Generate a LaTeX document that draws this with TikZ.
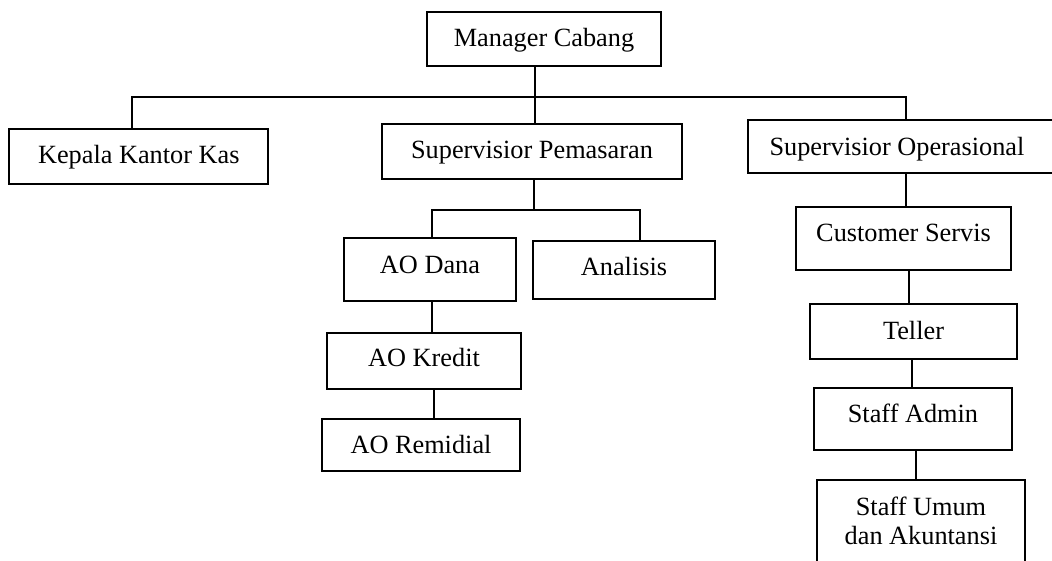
\documentclass[tikz,border=0pt]{standalone}
\usepackage{fontspec}
\setmainfont{Liberation Serif}
\begin{document}
\begin{tikzpicture}[x=1pt,y=-1pt,
  frame/.style={draw, line width=1.8pt, inner sep=0pt, font=\fontsize{26.3}{29}\selectfont},
  box/.style={frame, text depth=0pt},
  link/.style={line width=1.6pt}]
\useasboundingbox (0,0) rectangle (1052,561);
\clip (0,0) rectangle (1052,561);
\fill[white] (0,0) rectangle (1052,561);

\node[box, minimum width=234pt, minimum height=54pt, text height=16pt] (mgr) at (544,39) {Manager Cabang};
\node[box, minimum width=259pt, minimum height=55.3pt, text height=14.6pt] (kk) at (138.8,156.7) {Kepala Kantor Kas};
\node[box, minimum width=300pt, minimum height=55.3pt, text height=13.2pt] (sp) at (532,151.7) {Supervisior Pemasaran};
\node[box, minimum width=312pt, minimum height=53pt, text height=18pt] (so) at (904,146.5) {Supervisior Operasional\hspace*{14pt}};
\node[box, minimum width=215pt, minimum height=63pt, text height=6pt] (cs) at (903.5,238.5) {Customer Servis};
\node[box, minimum width=172pt, minimum height=63pt, text height=8pt] (aod) at (430,269.5) {AO Dana};
\node[box, minimum width=182pt, minimum height=58pt, text height=12pt] (ana) at (624,270) {Analisis};
\node[box, minimum width=194pt, minimum height=56pt, text height=11.4pt] (aok) at (424,361) {AO Kredit};
\node[box, minimum width=198pt, minimum height=52pt, text height=16pt] (aor) at (421,445) {AO Remidial};
\node[box, minimum width=207pt, minimum height=55pt, text height=15pt] (tel) at (913.5,331.5) {Teller};
\node[box, minimum width=198pt, minimum height=62pt, text height=7.4pt] (adm) at (913,419) {Staff Admin};
\node[frame, anchor=north, minimum width=208pt, minimum height=101.4pt] (umu) at (921,479)
  {\begin{tabular}{@{}c@{}}Staff Umum\\dan Akuntansi\\[12pt]\end{tabular}};

\coordinate (busL) at (131.7,97.3);
\coordinate (busM) at (535,97.3);
\coordinate (busR) at (906,97.3);
\draw[link] (kk.north -| busL) -- (busL) -- (busR) -- (so.north -| busR);
\draw[link] (mgr.south -| busM) -- (sp.north -| busM);

\coordinate (sbL) at (432,210);
\coordinate (sbM) at (534,210);
\coordinate (sbR) at (640,210);
\draw[link] (sp.south -| sbM) -- (sbM);
\draw[link] (aod.north -| sbL) -- (sbL) -- (sbR) -- (ana.north -| sbR);

\coordinate (c1) at (432,317);
\coordinate (c2) at (434,404);
\draw[link] (aod.south -| c1) -- (aok.north -| c1);
\draw[link] (aok.south -| c2) -- (aor.north -| c2);

\coordinate (c3) at (906,190);
\coordinate (c4) at (909,287);
\coordinate (c5) at (912,373);
\coordinate (c6) at (916,465);
\draw[link] (so.south -| c3) -- (cs.north -| c3);
\draw[link] (cs.south -| c4) -- (tel.north -| c4);
\draw[link] (tel.south -| c5) -- (adm.north -| c5);
\draw[link] (adm.south -| c6) -- (umu.north -| c6);
\end{tikzpicture}
\end{document}
